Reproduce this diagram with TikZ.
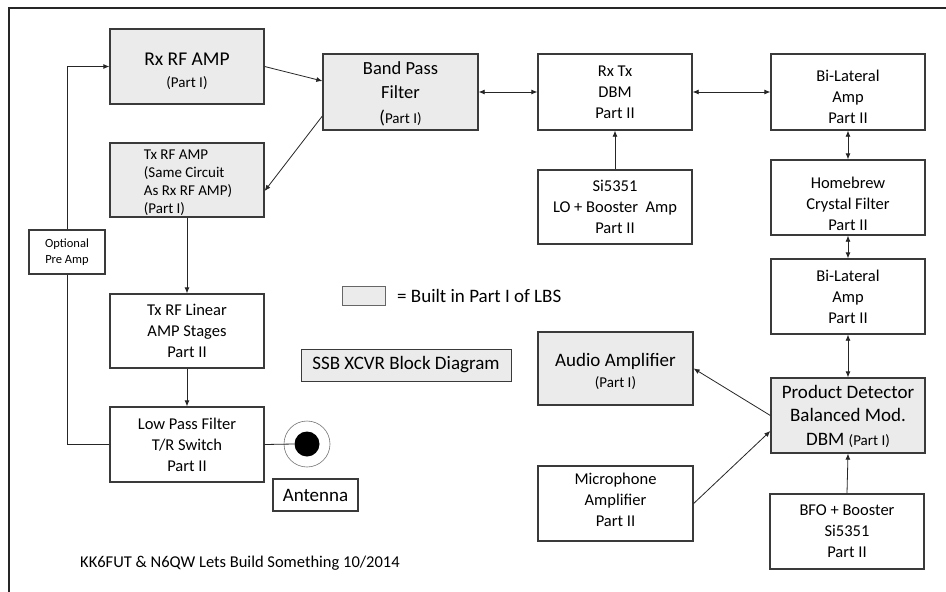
\documentclass[tikz,border=0pt]{standalone}
\usepackage{fontspec}
\setmainfont{Carlito}
\usetikzlibrary{arrows.meta,calc}
\definecolor{edge}{HTML}{3A3A3A}
\definecolor{partone}{HTML}{EBEBEB}
\tikzset{
  blk/.style={draw=edge, line width=1.3pt, fill=white, inner sep=0pt, align=center,
    font=\fontsize{16.5}{21}\selectfont, text=black},
  graybox/.style={blk, fill=partone},
  txt/.style={inner sep=0pt, align=center, font=\fontsize{16.5}{21}\selectfont, text=black},
  conn/.style={draw=black!85, line width=0.8pt},
  arr/.style={conn, -{Latex[length=6pt,width=5pt]}},
  darr/.style={conn, {Latex[length=6pt,width=5pt]}-{Latex[length=6pt,width=5pt]}},
  big/.style={font=\fontsize{19}{23}\selectfont},
}
\newcommand{\smallpart}{\fontsize{15}{18}\selectfont}
\begin{document}
\begin{tikzpicture}[x=1pt,y=-1pt]
\useasboundingbox (0,0) rectangle (946,592);
\fill[white] (0,0) rectangle (946,592);
% outer frame (open on the right and bottom)
\draw[line width=2pt, color=black!85] (9,592) -- (9,8) -- (946,8);

% left column
\node[graybox, minimum width=154pt, minimum height=75pt] (rxrf) at (187,66.5) {};
\node[txt] (rxrft) at ($(rxrf)+(0,5)$)
  {{\fontsize{19.5}{23}\selectfont Rx RF AMP}\\[1pt]{\smallpart (Part I)}};
\node[graybox, minimum width=154pt, minimum height=74pt] (txrf) at (187,180) {};
\node[txt, align=left, font=\fontsize{15}{18}\selectfont] (txrft) at ($(txrf)+(1,3)$)
  {Tx RF AMP\\(Same Circuit\\As Rx RF AMP)\\(Part I)};
\node[blk, minimum width=154pt, minimum height=74pt] (lin) at (187,331)
  {Tx RF Linear\\AMP Stages\\Part II};
\node[blk, minimum width=154pt, minimum height=75pt] (lpf) at (187,444.5)
  {Low Pass Filter\\T/R Switch\\Part II};

% optional pre amp on the feedback line
\coordinate (pre) at (67,252);
\draw[conn] (lpf.west) -| (pre);
\draw[arr] (pre) |- (rxrf.west);
\node[blk, minimum width=76pt, minimum height=44pt, font=\fontsize{12.5}{16}\selectfont]
  (preamp) at (pre) {Optional\\Pre Amp};

% antenna connector
\node[circle, draw=black!55, line width=0.6pt, minimum size=46pt, inner sep=0pt] (antring) at (307,444) {};
\node[circle, fill=black, minimum size=25pt, inner sep=0pt] (antdot) at (307,444) {};
\draw[conn] (lpf.east) -- (antdot.west);
\node[blk, minimum width=85pt, minimum height=32pt, big] (antlabel) at (315.5,495) {Antenna};

% band pass filter
\node[graybox, minimum width=155pt, minimum height=76pt] (bpf) at (400.5,92) {};
\node[txt, font=\fontsize{18.5}{24}\selectfont] (bpft) at ($(bpf)+(0,1.5)$)
  {Band Pass\\Filter\\[1pt]({\smallpart Part I)}};

% mixer and LO
\node[blk, minimum width=154pt, minimum height=76pt] (dbm) at (615,92)
  {Rx Tx\\DBM\\Part II};
\node[blk, minimum width=154pt, minimum height=74pt] (lo) at (615,207)
  {Si5351\\LO + Booster~ Amp\\Part II};

% IF chain
\node[blk, minimum width=154pt, minimum height=76pt] (bil1) at (848,92) {};
\node[txt] (bil1t) at ($(bil1)+(0,5)$) {Bi-Lateral\\Amp\\Part II};
\node[blk, minimum width=154pt, minimum height=75pt] (xtal) at (848,197.5) {};
\node[txt] (xtalt) at ($(xtal)+(0,6)$) {Homebrew\\Crystal Filter\\Part II};
\node[blk, minimum width=154pt, minimum height=75pt] (bil2) at (848,296.5)
  {Bi-Lateral\\Amp\\Part II};
\node[graybox, minimum width=154pt, minimum height=75pt] (pd) at (848,415.5) {};
\node[txt, font=\fontsize{19}{23.5}\selectfont] (pdt) at ($(pd)+(0,0.5)$)
  {Product Detector\\Balanced Mod.\\DBM {\smallpart (Part I)}};
\node[blk, minimum width=154pt, minimum height=75pt] (bfo) at (847,531.5)
  {BFO + Booster\\Si5351\\Part II};

% audio side
\node[graybox, minimum width=155pt, minimum height=73pt] (audio) at (615.5,368.5) {};
\node[txt] (audiot) at ($(audio)+(0,3)$)
  {{\fontsize{19}{23}\selectfont Audio Amplifier}\\{\smallpart (Part I)}};
\node[blk, minimum width=155pt, minimum height=75pt] (mic) at (615.5,503.5) {};
\node[txt] (mict) at ($(mic)+(0,-4)$) {Microphone\\Amplifier\\Part II};

% legend and title
\node[graybox, line width=0.8pt, draw=black!60, minimum width=43pt, minimum height=19pt] (legbox) at (363.5,295.5) {};
\node[anchor=west, inner sep=0pt, big] (legtext) at (397,296) {= Built in Part I of LBS};
\node[graybox, line width=1pt, minimum width=210pt, minimum height=32pt, big] (title) at (406,365)
  {SSB XCVR Block Diagram};
\node[anchor=west, inner sep=0pt, font=\fontsize{16.5}{20}\selectfont] (credit) at (80,563)
  {KK6FUT \& N6QW Lets Build Something 10/2014};

% signal paths
\draw[arr] (rxrf.east) -- ($(bpf.west)+(0,-11)$);
\draw[arr] ($(bpf.west)+(0,24)$) -- ($(txrf.east)+(0,11)$);
\draw[arr] (txrf.south) -- (lin.north);
\draw[arr] (lin.south) -- (lpf.north);
\draw[darr] (bpf.east) -- (dbm.west);
\draw[darr] (dbm.east) -- (bil1.west);
\draw[arr] (lo.north) -- (dbm.south);
\draw[darr] (bil1.south) -- (xtal.north);
\draw[darr] (xtal.south) -- (bil2.north);
\draw[darr] (bil2.south) -- (pd.north);
\draw[arr] (bfo.north) -- (pd.south);
\draw[arr] (pd.west) -- (audio.east);
\draw[arr] (mic.east) -- ($(pd.west)+(0,15.5)$);
\end{tikzpicture}
\end{document}
